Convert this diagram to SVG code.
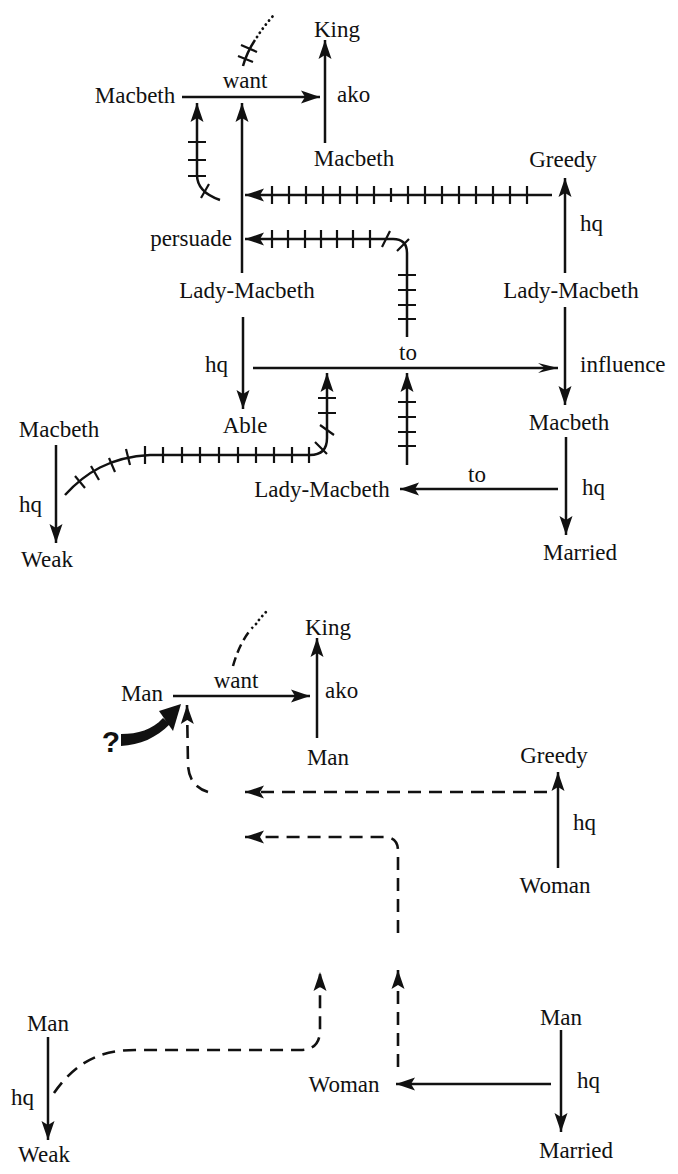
<svg xmlns="http://www.w3.org/2000/svg" width="678" height="1174" viewBox="0 0 678 1174">
<defs>
<style>
text{font-family:"Liberation Serif","Times New Roman",serif;font-size:23px;fill:#111}
.m{text-anchor:middle}
.ln{fill:none;stroke:#111;stroke-width:2.5}
.tk{fill:none;stroke:#111;stroke-width:2.2}
.ds{fill:none;stroke:#111;stroke-width:2.6;stroke-dasharray:13 8}
.dt{fill:none;stroke:#111;stroke-width:2.8;stroke-dasharray:0.1 5;stroke-linecap:round}
.arr{marker-end:url(#ah)}
</style>
<marker id="ah" markerUnits="userSpaceOnUse" viewBox="-20 -7 21 14" refX="0" refY="0" markerWidth="21" markerHeight="14" orient="auto"><path d="M0,0 L-19,-6.5 L-15,0 L-19,6.5 Z" fill="#111"/></marker>
<marker id="ao" markerUnits="userSpaceOnUse" viewBox="-21 -6 22 12" refX="0" refY="0" markerWidth="22" markerHeight="12" orient="auto"><path d="M0,0 L-20,-5 L-13,0 L-20,5 Z" fill="#111"/></marker>
</defs>
<rect x="0" y="0" width="678" height="1174" fill="#fff"/>

<!-- ===== TOP DIAGRAM NODES ===== -->
<g id="t-king"><text class="m" x="337" y="37">King</text></g>
<g id="t-macbeth-want"><text class="m" x="135" y="103">Macbeth</text></g>
<g id="t-macbeth-ako"><text class="m" x="354" y="166">Macbeth</text></g>
<g id="t-greedy"><text class="m" x="563" y="167">Greedy</text></g>
<g id="t-persuade"><text class="m" x="191" y="246">persuade</text></g>
<g id="t-lady-left"><text class="m" x="247" y="298">Lady-Macbeth</text></g>
<g id="t-lady-right"><text class="m" x="571" y="298">Lady-Macbeth</text></g>
<g id="t-able"><text class="m" x="245" y="433">Able</text></g>
<g id="t-influence"><text x="580" y="372">influence</text></g>
<g id="t-macbeth-right"><text class="m" x="569" y="430">Macbeth</text></g>
<g id="t-macbeth-weak"><text class="m" x="59" y="437">Macbeth</text></g>
<g id="t-weak"><text class="m" x="47" y="567">Weak</text></g>
<g id="t-lady-bottom"><text class="m" x="322" y="497">Lady-Macbeth</text></g>
<g id="t-married"><text class="m" x="580" y="560">Married</text></g>

<!-- ===== BOTTOM DIAGRAM NODES ===== -->
<g id="b-king"><text class="m" x="328" y="635">King</text></g>
<g id="b-man-want"><text class="m" x="142" y="701">Man</text></g>
<g id="b-man-ako"><text class="m" x="328" y="765">Man</text></g>
<g id="b-greedy"><text class="m" x="554" y="763">Greedy</text></g>
<g id="b-woman-greedy"><text class="m" x="555" y="893">Woman</text></g>
<g id="b-question"><text class="m" x="111" y="752" style="font-family:'Liberation Sans',Arial,sans-serif;font-weight:bold;font-size:30px">?</text></g>
<g id="b-man-weak"><text class="m" x="48" y="1031">Man</text></g>
<g id="b-weak"><text class="m" x="44" y="1162">Weak</text></g>
<g id="b-woman"><text class="m" x="344" y="1092">Woman</text></g>
<g id="b-man-married"><text class="m" x="561" y="1025">Man</text></g>
<g id="b-married"><text class="m" x="576" y="1158">Married</text></g>

<!-- ===== CONNECTORS ===== -->
<g id="connectors">
<!-- top: plain arrows -->
<path class="ln arr" d="M182,97 L320,97"/>
<text class="m" x="245" y="88">want</text>
<path class="ln arr" d="M325,143 L325,40"/>
<text x="337" y="102">ako</text>
<path class="ln arr" d="M565,273 L565,178"/>
<text x="580" y="231">hq</text>
<path class="ln arr" d="M242,273 L242,103"/>
<path class="ln arr" d="M243,317 L243,409"/>
<text x="205" y="372">hq</text>
<path class="ln" d="M253,368 L558,368" marker-end="url(#ao)"/>
<text class="m" x="408" y="360">to</text>
<path class="ln arr" d="M565,307 L565,405"/>
<path class="ln arr" d="M566,437 L566,535"/>
<text x="582" y="495">hq</text>
<path class="ln arr" d="M558,489 L400,489"/>
<text class="m" x="477" y="482">to</text>
<path class="ln arr" d="M56,445 L56,543"/>
<text x="19" y="512">hq</text>

<!-- top: hatched arrows -->
<path class="ln arr" d="M552,195 L245,195"/>
<path class="tk" d="M272,186V204M289,186V204M306,186V204M323,186V204M340,186V204M357,186V204M374,186V204M391,188V202M408,186V204M425,186V204M442,186V204M459,186V204M476,186V204M493,186V204M510,186V204M527,186V204"/>

<path class="ln arr" d="M407,337 L407,253 Q407,239 393,239 L245,239"/>
<path class="tk" d="M272,230V248M288,230V248M305,230V248M321,230V248M337,230V248M353,230V248M370,230V248M382,247L390,231M397,251L409,239M398,275H416M398,290H416M398,305H416M398,319H416"/>

<path class="ln arr" d="M220,200 Q197,192 197,175 L197,103"/>
<path class="tk" d="M188,142H206M188,160H206M188,176H206M201,198L209,184"/>

<path class="ln arr" d="M65,495 C85,473 110,457 150,455 L310,455 Q327,455 327,438 L327,373"/>
<path class="tk" d="M75,476L85,488M91,466L99,480M109,458L115,472M126,449L130,465M145,446V464M163,447V463M182,447V463M200,447V463M219,447V463M238,447V463M256,447V463M274,447V463M292,447V463M309,447V463M315,442L327,454M320,425L334,435M318,413H336M318,398H336"/>

<path class="ln arr" d="M407,465 L407,373"/>
<path class="tk" d="M398,402H416M398,417H416M398,432H416M398,446H416"/>

<path class="ln" d="M243,66 Q247,52 255,40"/>
<path class="dt" d="M257,37 Q264,26 273,16"/>
<path class="tk" d="M241,45L257,52M238,56L253,62"/>

<!-- bottom: plain arrows -->
<path class="ln arr" d="M173,696 L310,696"/>
<text class="m" x="236" y="688">want</text>
<path class="ln arr" d="M317,738 L317,638"/>
<text x="325" y="698">ako</text>
<path class="ln arr" d="M558,868 L558,772"/>
<text x="573" y="830">hq</text>
<path class="ln arr" d="M48,1037 L48,1140"/>
<text x="11" y="1105">hq</text>
<path class="ln arr" d="M551,1084 L396,1084"/>
<path class="ln arr" d="M561,1030 L561,1132"/>
<text x="577" y="1088">hq</text>

<!-- bottom: dashed arrows -->
<path class="ds arr" d="M547,792 L245,792"/>
<path class="ds arr" d="M398,933 L398,851 Q398,837 384,837 L245,837"/>
<path class="ds arr" d="M208,792 Q189,786 188,765 L187,705"/>
<path class="ds arr" d="M54,1093 C76,1062 100,1050 135,1050 L300,1050 Q320,1050 320,1030 L320,972"/>
<path class="ds arr" d="M398,1067 L398,970"/>
<path class="ln" style="stroke-dasharray:9 5" d="M233,666 Q240,641 253,627"/>
<path class="dt" d="M256,624 Q260,618 267,611"/>

<!-- bottom: bold question arrow -->
<path d="M121,734 C138,734 152,730 163,718 L170,724 C156,738 140,745 121,746 Z" fill="#111"/>
<path d="M181,704 L159,711 L173,731 Z" fill="#111"/>
</g>
</svg>
